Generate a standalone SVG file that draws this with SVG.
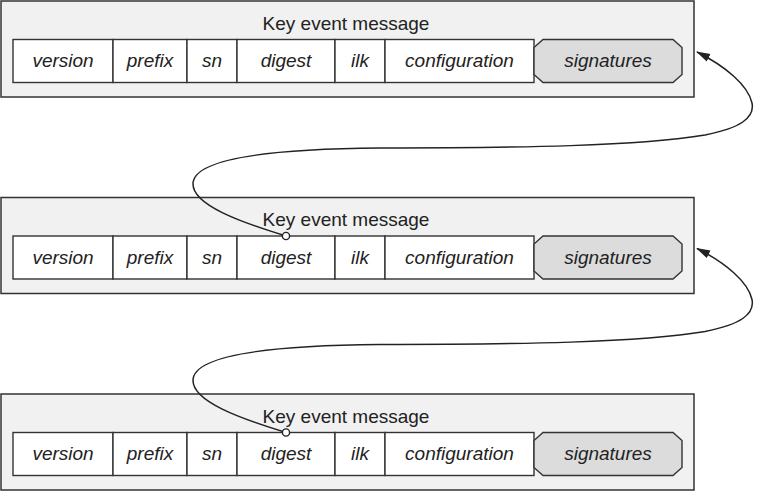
<svg xmlns="http://www.w3.org/2000/svg" width="757" height="492" viewBox="0 0 757 492">
<style>
.outer{fill:#f1f1f1;stroke:#333;stroke-width:1.5}
.cell{fill:#fff;stroke:#333;stroke-width:1.4}
.sig{fill:#dcdcdc;stroke:#333;stroke-width:1.4}
.title{font-family:"Liberation Sans",Arial,sans-serif;font-size:19px;fill:#222;text-anchor:middle}
.f{font-family:"Liberation Sans",Arial,sans-serif;font-size:19px;font-style:italic;fill:#222;text-anchor:middle}
.link{fill:none;stroke:#222;stroke-width:1.5}
.dot{fill:#fff;stroke:#222;stroke-width:1.4}
</style>
<defs>
<marker id="arr" viewBox="0 0 14 10" refX="13" refY="5" markerWidth="14" markerHeight="10" markerUnits="userSpaceOnUse" orient="auto">
<path d="M0,0.8 L14,5 L0,9.2 Z" fill="#222"/>
</marker>
<g id="msg">
<rect class="outer" x="1" y="1" width="693" height="96"/>
<text class="title" x="346" y="29.5">Key event message</text>
<rect class="cell" x="13" y="39.5" width="100" height="43"/>
<rect class="cell" x="113" y="39.5" width="74" height="43"/>
<rect class="cell" x="187" y="39.5" width="50" height="43"/>
<rect class="cell" x="237" y="39.5" width="98" height="43"/>
<rect class="cell" x="335" y="39.5" width="50" height="43"/>
<rect class="cell" x="385" y="39.5" width="149" height="43"/>
<path class="sig" d="M543,39.5 L673,39.5 L682,47.5 L682,74.5 L673,82.5 L543,82.5 L534,74.5 L534,47.5 Z"/>
<text class="f" x="63" y="67">version</text>
<text class="f" x="150" y="67">prefix</text>
<text class="f" x="212" y="67">sn</text>
<text class="f" x="286" y="67">digest</text>
<text class="f" x="360" y="67">ilk</text>
<text class="f" x="459.5" y="67">configuration</text>
<text class="f" x="608" y="67">signatures</text>
</g>
</defs>
<g id="message1"><use href="#msg"/></g>
<g id="message2"><use href="#msg" transform="translate(0,196.5)"/></g>
<g id="message3"><use href="#msg" transform="translate(0,393)"/></g>
<g id="connectors">
<path class="link" marker-end="url(#arr)" d="M286,236 C 240,222 193,205 193,184 C 193,160 260,149 380,148 C 520,148 640,146 705,135 C 740,128 755,118 752,103 C 748,85 725,66 697,52"/>
<circle class="dot" cx="286" cy="236" r="3.6"/>
<path class="link" marker-end="url(#arr)" d="M286,432.5 C 240,418.5 193,401.5 193,380.5 C 193,356.5 260,345.5 380,344.5 C 520,344.5 640,342.5 705,331.5 C 740,324.5 755,314.5 752,299.5 C 748,281.5 725,262.5 697,248.5"/>
<circle class="dot" cx="286" cy="432.5" r="3.6"/>
</g>
</svg>
